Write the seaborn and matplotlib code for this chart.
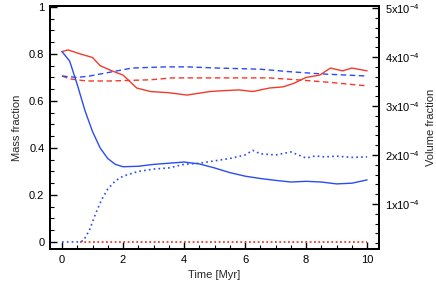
import matplotlib
matplotlib.use("Agg")
import matplotlib.pyplot as plt
import seaborn as sns
import pandas as pd
from matplotlib.ticker import MultipleLocator, FixedLocator

# ---- data ----
t_blue_solid = [0, 0.25, 0.5, 0.75, 1.0, 1.25, 1.5, 1.75, 2.0, 2.5, 3.0, 3.5, 4.0, 4.5,
                5.0, 5.5, 6.0, 6.5, 7.0, 7.5, 8.0, 8.5, 9.0, 9.5, 10]
blue_solid = [0.81, 0.77, 0.67, 0.56, 0.47, 0.40, 0.355, 0.33, 0.32, 0.322, 0.33, 0.335,
              0.34, 0.332, 0.315, 0.295, 0.28, 0.27, 0.262, 0.255, 0.258, 0.255, 0.247,
              0.25, 0.264]

t_blue_dot = [0, 0.5, 0.7, 0.9, 1.1, 1.3, 1.5, 1.75, 2.0, 2.5, 3.0, 3.5, 4.0, 4.5, 5.0,
              5.5, 6.0, 6.25, 6.5, 7.0, 7.5, 8.0, 8.3, 8.6, 9.0, 9.5, 10]
blue_dot = [0, 0, 0.005, 0.05, 0.12, 0.18, 0.225, 0.26, 0.28, 0.30, 0.31, 0.315, 0.33,
            0.335, 0.345, 0.355, 0.37, 0.39, 0.375, 0.37, 0.383, 0.357, 0.366, 0.362,
            0.365, 0.36, 0.362]

t_red_solid = [0, 0.2, 0.6, 1.0, 1.25, 1.6, 2.0, 2.45, 2.9, 3.5, 4.1, 4.85, 5.2, 5.8,
               6.25, 6.8, 7.25, 7.6, 8.0, 8.45, 8.8, 9.2, 9.5, 10]
red_solid = [0.81, 0.817, 0.80, 0.785, 0.75, 0.73, 0.71, 0.655, 0.64, 0.635, 0.625, 0.64,
             0.643, 0.647, 0.64, 0.655, 0.66, 0.675, 0.70, 0.71, 0.74, 0.728, 0.74, 0.728]

t_red_dash = [0, 0.25, 0.8, 1.6, 2.9, 3.6, 5.1, 6.8, 7.7, 8.7, 10]
red_dash = [0.706, 0.694, 0.685, 0.685, 0.69, 0.698, 0.698, 0.698, 0.69, 0.68, 0.664]

t_blue_dash = [0, 0.5, 0.9, 1.6, 2.3, 3.4, 4.1, 5.1, 6.5, 7.4, 8.5, 10]
blue_dash = [0.706, 0.70, 0.706, 0.723, 0.74, 0.745, 0.745, 0.74, 0.735, 0.725, 0.715, 0.706]

t_red_dot = [0.6, 10]
red_dot = [0, 0]

right_ticks = [1e-4, 2e-4, 3e-4, 4e-4, 5e-4]
right_ticklabels = ["1x10$^{-4}$", "2x10$^{-4}$", "3x10$^{-4}$", "4x10$^{-4}$", "5x10$^{-4}$"]
left_ticks = [0, 0.2, 0.4, 0.6, 0.8, 1]
left_ticklabels = ["0", "0.2", "0.4", "0.6", "0.8", "1"]
x_ticks = [0, 2, 4, 6, 8, 10]

BLUE = "#2b4cf2"
RED = "#f23a2a"

sns.set_style("ticks")
plt.rcParams["font.family"] = ["Liberation Sans", "DejaVu Sans"]
plt.rcParams["mathtext.fontset"] = "custom"
plt.rcParams["mathtext.rm"] = "Liberation Sans"
plt.rcParams["mathtext.it"] = "Liberation Sans"
plt.rcParams["mathtext.default"] = "regular"

fig = plt.figure(figsize=(4.36, 2.99), dpi=100)
ax = fig.add_axes([50 / 436, 1 - 249 / 299, (379 - 50) / 436, (249 - 6) / 299])

def line(t, v, color, ls, lw=1.0):
    df = pd.DataFrame({"t": t, "v": v})
    sns.lineplot(data=df, x="t", y="v", ax=ax, color=color, linestyle=ls,
                 linewidth=lw, sort=False, estimator=None)

line(t_red_dot, red_dot, RED, (0, (1.0, 1.4)), 1.3)
line(t_blue_dot, blue_dot, BLUE, (0, (1.0, 1.9)), 1.2)
line(t_red_dash, red_dash, RED, (0, (4, 2.5)), 1.0)
line(t_blue_dash, blue_dash, BLUE, (0, (4, 2.5)), 1.0)
line(t_red_solid, red_solid, RED, "-", 1.0)
line(t_blue_solid, blue_solid, BLUE, "-", 1.0)

fs = 8
ax.set_xlim(-0.393, 10.39)
ax.set_ylim(-0.03, 1.004)
ax.set_xticks(x_ticks)
ax.set_xticklabels([str(x) for x in x_ticks], fontsize=fs)
ax.set_yticks(left_ticks)
ax.set_yticklabels(left_ticklabels, fontsize=fs)
ax.xaxis.set_minor_locator(MultipleLocator(0.5))
ax.yaxis.set_minor_locator(MultipleLocator(0.05))
ax.tick_params(which="both", direction="in", top=False, right=False, colors="black")
ax.tick_params(which="major", length=5, width=1.0, pad=4)
ax.tick_params(which="minor", length=3, width=0.8)
ax.set_xlabel("Time [Myr]", fontsize=fs, labelpad=4)
ax.set_ylabel("Mass fraction", fontsize=fs, labelpad=5)
for s in ax.spines.values():
    s.set_linewidth(1.4)
    s.set_color("black")

ax2 = ax.twinx()
ax2.set_ylim(0.08e-4, 5.04e-4)
ax2.yaxis.set_major_locator(FixedLocator(right_ticks))
ax2.set_yticklabels(right_ticklabels, fontsize=fs)
ax2.yaxis.set_minor_locator(MultipleLocator(0.2e-4))
ax2.tick_params(which="both", direction="in", colors="black")
ax2.tick_params(which="major", length=5, width=1.0, pad=4)
ax2.tick_params(which="minor", length=3, width=0.8)
ax2.set_ylabel("Volume fraction", fontsize=fs, labelpad=5)
for s in ax2.spines.values():
    s.set_linewidth(1.4)
    s.set_color("black")

fig.savefig("out.png", dpi=100)
